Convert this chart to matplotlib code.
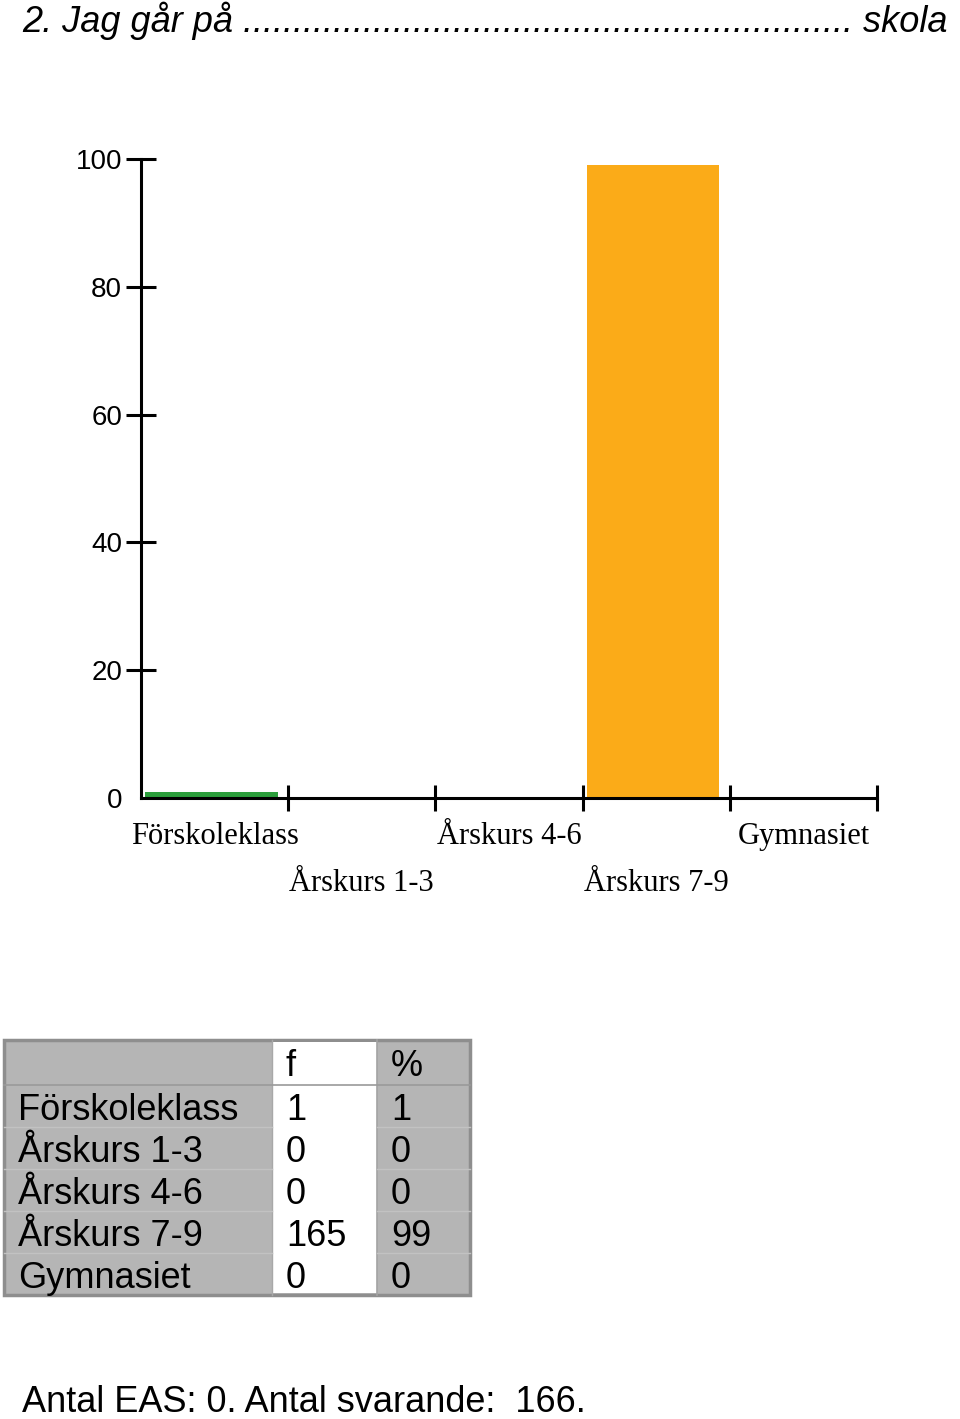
import numpy as np
import matplotlib
matplotlib.use("Agg")
import matplotlib.pyplot as plt
from matplotlib.patches import Rectangle
import matplotlib.transforms as mtransforms

# ---------------- data ----------------
categories = ["Förskoleklass", "Årskurs 1-3", "Årskurs 4-6", "Årskurs 7-9", "Gymnasiet"]
freq = [1, 0, 0, 165, 0]
pct = [1, 0, 0, 99, 0]
bar_colors = ["#2b9e3b", "#2f5fc0", "#d62728", "#fbab18", "#7f3fbf"]
y_ticks = [0, 20, 40, 60, 80, 100]
title = "2. Jag går på " + "." * 61 + " skola"
footer = "Antal EAS: 0. Antal svarande:  166."

W, H = 960, 1419
fig = plt.figure(figsize=(W / 100, H / 100), dpi=100)

def fx(px):
    return px / W

def fy(py):
    return 1 - py / H

# ---------------- bar chart ----------------
ax = fig.add_axes([fx(141), fy(798), fx(877) - fx(141), fy(159) - fy(798)])
x = np.arange(len(categories))
ax.bar(x + 0.03, pct, width=0.9, align="edge", color=bar_colors, linewidth=0, zorder=1)
ax.set_xlim(0, len(categories))
ax.set_ylim(0, 100)

for side in ["top", "right"]:
    ax.spines[side].set_visible(False)
for side in ["left", "bottom"]:
    ax.spines[side].set_linewidth(2.2)
    ax.spines[side].set_zorder(3)

ax.set_yticks(y_ticks)
ax.set_yticklabels([str(v) for v in y_ticks], fontfamily="Liberation Sans", fontsize=20)
ax.tick_params(axis="y", direction="inout", length=21, width=2.2, pad=3)
ax.yaxis.get_major_ticks()[0].tick1line.set_visible(False)

ax.set_xticks(np.arange(1, len(categories) + 1))
ax.set_xticklabels([])
ax.tick_params(axis="x", direction="inout", length=19, width=2.2)

# category labels, staggered on two rows
trans = mtransforms.blended_transform_factory(ax.transData, ax.transAxes)
for i, name in enumerate(categories):
    offset = -38 if i % 2 == 0 else -85
    ax.annotate(name, xy=(i + 0.5, 0), xycoords=trans,
                xytext=(0, offset * 0.72), textcoords="offset points",
                ha="center", va="center", fontfamily="Liberation Serif", fontsize=22)

# ---------------- title + footer ----------------
fig.text(fx(22), fy(21), title, fontfamily="Liberation Sans", fontstyle="italic",
         fontsize=26, ha="left", va="center")
fig.text(fx(22), fy(1402), footer, fontfamily="Liberation Sans",
         fontsize=26, ha="left", va="center")

# ---------------- table ----------------
tab = fig.add_axes([0, 0, 1, 1], zorder=-1)
tab.set_xlim(0, W)
tab.set_ylim(H, 0)
tab.axis("off")

left, right = 4, 470
col_f, col_p = 272, 377
top, head_bot = 1040, 1085
row_h = 42
bottom = head_bot + row_h * len(categories)

tab.add_patch(Rectangle((left, top), right - left, bottom - top,
                        facecolor="#b5b5b5", edgecolor="#8e8e8e", linewidth=2.5))
tab.add_patch(Rectangle((col_f, top + 2), col_p - col_f, bottom - top - 4,
                        facecolor="white", edgecolor="none"))
tab.plot([col_p, col_p], [top, bottom], color="#a3a3a3", linewidth=1.2)
tab.plot([col_f, col_f], [top, bottom], color="#a8a8a8", linewidth=1.0)
tab.plot([left, right], [head_bot, head_bot], color="#9a9a9a", linewidth=1.2)
for r in range(1, len(categories)):
    yy = head_bot + r * row_h
    tab.plot([left, col_f], [yy, yy], color="#c2c2c2", linewidth=1.0)
    tab.plot([col_p, right], [yy, yy], color="#c2c2c2", linewidth=1.0)

font_kw = dict(fontfamily="Liberation Sans", fontsize=26, va="center", ha="left")
tab.text(286, (top + head_bot) / 2 + 4, "f", **font_kw)
tab.text(391, (top + head_bot) / 2 + 4, "%", **font_kw)
for r, name in enumerate(categories):
    yc = head_bot + r * row_h + row_h / 2 + 4
    tab.text(18, yc, name, **font_kw)
    tab.text(286, yc, str(freq[r]), **font_kw)
    tab.text(391, yc, str(pct[r]), **font_kw)

fig.savefig("out.png", dpi=100)
